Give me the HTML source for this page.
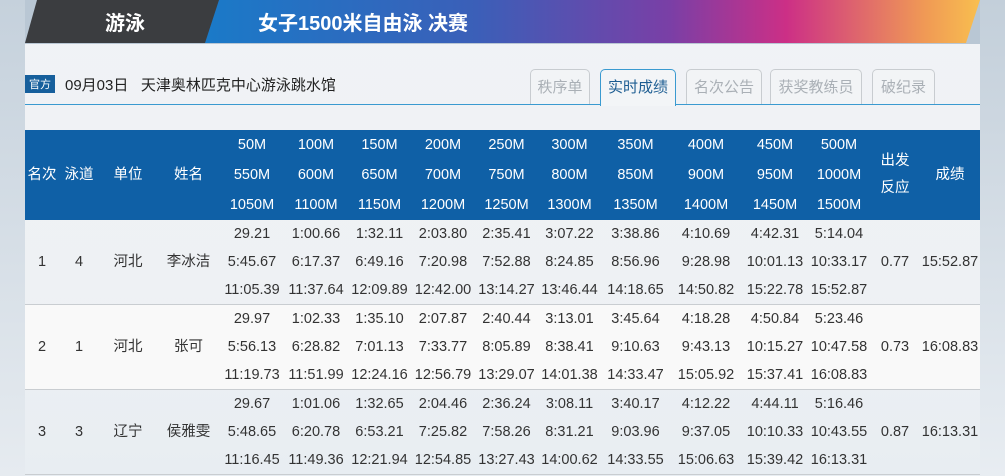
<!DOCTYPE html>
<html><head><meta charset="utf-8"><style>
*{margin:0;padding:0;box-sizing:border-box}
body{width:1005px;height:476px;overflow:hidden;background:linear-gradient(180deg,#f1f3f6 0%,#eef1f4 60%,#e8edf2 100%);font-family:"Liberation Sans","Noto Sans CJK SC",sans-serif;position:relative}
.bgl{position:absolute;left:0;top:0;width:25px;height:476px;background:linear-gradient(180deg,#c5d1dc,#e6ebf0)}
.bgr{position:absolute;right:0;top:0;width:25px;height:476px;background:linear-gradient(180deg,#c3cfda,#e8edf2)}
.top{position:absolute;left:0;top:0;width:1005px;height:44px;background:#b9c7d4}
.dark{position:absolute;left:25px;top:0;width:205px;height:43px;background:#3b3d40;clip-path:polygon(12px 0,100% 0,calc(100% - 14px) 100%,0 100%)}
.grad{position:absolute;left:205px;top:0;width:775px;height:43px;background:linear-gradient(90deg,#1a7ac8 0%,#3b5fb8 35%,#7a3fa6 60%,#cc2f86 75%,#f09a55 93%,#f8bf4f 100%);clip-path:polygon(14px 0,100% 0,calc(100% - 14px) 100%,0 100%)}
.t1{position:absolute;left:105px;top:7px;color:#fff;font-size:20px;font-weight:bold}
.t2{position:absolute;left:258px;top:7px;color:#fff;font-size:20px;font-weight:bold}
.info{position:absolute;left:25px;top:74px;font-size:15px;color:#222}
.tag{display:inline-block;background:#165f9c;color:#fff;font-size:11px;padding:1px 4px;margin-right:10px;vertical-align:2px}
.line{position:absolute;left:25px;top:104px;width:955px;height:1px;background:#3a9ad0}
.tab{position:absolute;top:69px;height:35px;border:1px solid #c8ccd0;border-bottom:none;border-radius:5px 5px 0 0;color:#aab0b6;font-size:15px;line-height:36px;text-align:center;background:#f2f4f6}
.tab.on{border-color:#3a9ad0;color:#1d5d92;height:37px;background:#f3f5f7}
.tbl{position:absolute;left:25px;top:130px;width:955px}
.hd{background:#0f60a6;color:#fff;height:90px;display:flex}
.row{height:85px;display:flex;border-bottom:1px solid #c9cdd1;color:#333}
.row.w{background:#f9f9f9}
.c{text-align:center;font-size:14.5px;display:flex;flex-direction:column;justify-content:center}
.hd .c div{line-height:30px}
.row .c div{line-height:28px}
</style></head><body>
<div class="top"></div><div class="bgl"></div><div class="bgr"></div>
<div class="dark"></div><div class="grad"></div>
<div class="t1">游泳</div><div class="t2">女子1500米自由泳 决赛</div>
<div class="info"><span class="tag">官方</span>09月03日&nbsp;&nbsp;&nbsp;天津奥林匹克中心游泳跳水馆</div>
<div class="line"></div>
<div class="tab" style="left:530px;width:60px">秩序单</div>
<div class="tab on" style="left:600px;width:76px">实时成绩</div>
<div class="tab" style="left:686px;width:76px">名次公告</div>
<div class="tab" style="left:770px;width:92px">获奖教练员</div>
<div class="tab" style="left:872px;width:63px">破纪录</div>
<div class="tbl" id="t"></div>
<script>
var w=[34,40,58,63,64,64,63,64,63,63,69,72,66,62,50,60];
function cell(i,lines){return '<div class="c" style="width:'+w[i]+'px">'+lines.map(function(l){return '<div>'+l+'</div>'}).join('')+'</div>'}
var h='<div class="hd">'+cell(0,['名次'])+cell(1,['泳道'])+cell(2,['单位'])+cell(3,['姓名']);
for(var k=1;k<=10;k++)h+=cell(3+k,[k*50+'M',(500+k*50)+'M',(1000+k*50)+'M']);
h+='<div class="c" style="width:50px"><div style="line-height:19px">出发</div><div style="line-height:19px;margin-top:8px">反应</div></div>'+cell(15,['成绩'])+'</div>';
var R=[['1','4','河北','李冰洁',['29.21','1:00.66','1:32.11','2:03.80','2:35.41','3:07.22','3:38.86','4:10.69','4:42.31','5:14.04'],['5:45.67','6:17.37','6:49.16','7:20.98','7:52.88','8:24.85','8:56.96','9:28.98','10:01.13','10:33.17'],['11:05.39','11:37.64','12:09.89','12:42.00','13:14.27','13:46.44','14:18.65','14:50.82','15:22.78','15:52.87'],'0.77','15:52.87'],
['2','1','河北','张可',['29.97','1:02.33','1:35.10','2:07.87','2:40.44','3:13.01','3:45.64','4:18.28','4:50.84','5:23.46'],['5:56.13','6:28.82','7:01.13','7:33.77','8:05.89','8:38.41','9:10.63','9:43.13','10:15.27','10:47.58'],['11:19.73','11:51.99','12:24.16','12:56.79','13:29.07','14:01.38','14:33.47','15:05.92','15:37.41','16:08.83'],'0.73','16:08.83'],
['3','3','辽宁','侯雅雯',['29.67','1:01.06','1:32.65','2:04.46','2:36.24','3:08.11','3:40.17','4:12.22','4:44.11','5:16.46'],['5:48.65','6:20.78','6:53.21','7:25.82','7:58.26','8:31.21','9:03.96','9:37.05','10:10.33','10:43.55'],['11:16.45','11:49.36','12:21.94','12:54.85','13:27.43','14:00.62','14:33.55','15:06.63','15:39.42','16:13.31'],'0.87','16:13.31']];
R.forEach(function(r,j){h+='<div class="row'+(j==1?' w':'')+'">';for(var i=0;i<4;i++)h+=cell(i,[r[i]]);for(var k=0;k<10;k++)h+=cell(4+k,[r[4][k],r[5][k],r[6][k]]);h+=cell(14,[r[7]])+cell(15,[r[8]])+'</div>'});
document.getElementById('t').innerHTML=h;
</script>
</body></html>
